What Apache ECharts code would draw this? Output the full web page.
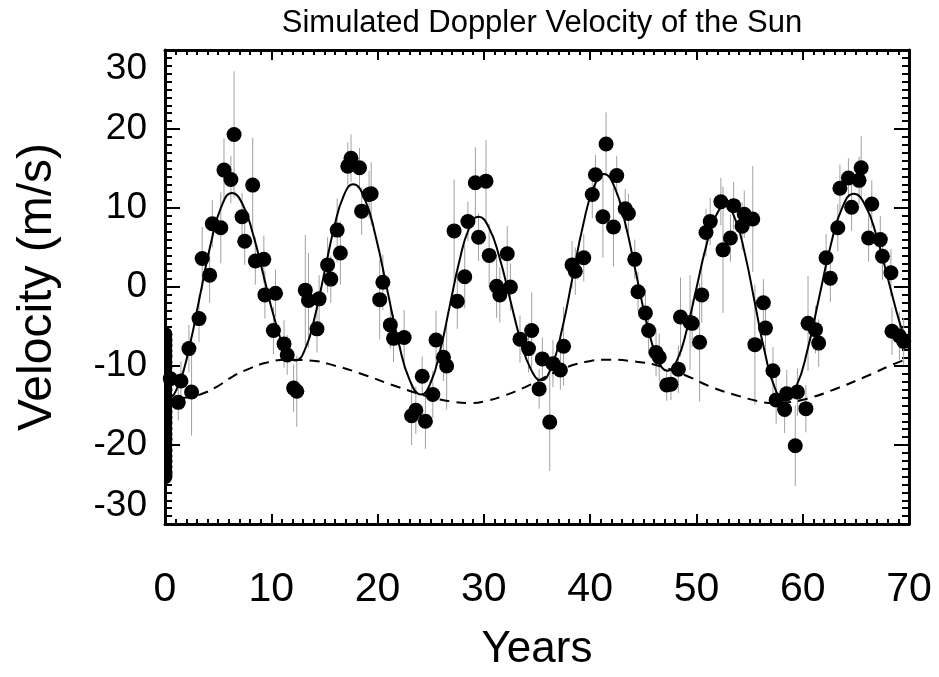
<!DOCTYPE html>
<html>
<head>
<meta charset="utf-8">
<title>Simulated Doppler Velocity of the Sun</title>
<script src="https://cdn.jsdelivr.net/npm/echarts@6/dist/echarts.min.js"></script>
<style>
  html, body { margin: 0; padding: 0; background: #fff; }
  #chart { width: 939px; height: 677px; }
</style>
</head>
<body>
<div id="chart"></div>
<script>
// observed points: year, velocity (m/s), error bar half-length
const obsYears = [0.5, 1.25, 1.5, 2.25, 2.5, 3.2, 3.5, 4.2, 4.45, 5.25, 5.55, 6.2, 6.5, 7.25, 7.5, 8.25, 8.5, 9.3, 9.4, 10.4,
  10.2, 11.2, 11.5, 12.1, 12.4, 13.2, 13.5, 14.3, 14.5, 15.3, 15.6, 16.2, 16.5, 17.2, 17.5, 18.3, 18.5, 19.2, 19.4, 20.5,
  20.2, 21.2, 21.5, 22.5, 23.2, 23.6, 24.2, 24.5, 25.2, 25.5, 26.2, 26.5, 27.2, 27.5, 28.2, 28.5, 29.2, 29.5, 30.2, 30.5,
  31.2, 31.5, 32.2, 32.5, 33.4, 34.2, 34.5, 35.2, 35.5, 36.2, 36.5, 37.2, 37.5, 38.3, 38.6, 39.4, 40.2, 40.5, 41.2, 41.5,
  42.2, 42.5, 43.3, 43.6, 44.2, 44.5, 45.2, 45.5, 46.2, 46.5, 47.2, 47.6, 48.3, 48.5, 49.4, 49.6, 50.3, 50.5, 50.9, 51.3,
  52.3, 52.5, 53.2, 53.5, 54.3, 54.5, 55.3, 55.5, 56.3, 56.5, 57.2, 57.5, 58.3, 58.5, 59.3, 59.5, 60.3, 60.5, 61.2, 61.5,
  62.2, 62.6, 63.3, 63.5, 64.3, 64.6, 65.3, 65.5, 66.2, 66.5, 67.3, 67.5, 68.3, 68.4, 69.1, 69.5];
const obsVel = [-11.6, -14.6, -11.9, -7.8, -13.3, -4.0, 3.6, 1.5, 8.0, 7.5, 14.8, 13.6, 19.3, 8.9, 5.8, 12.9, 3.3, 3.5, -1.0, -0.8,
  -5.5, -7.2, -8.6, -12.8, -13.2, -0.4, -1.7, -5.3, -1.5, 2.8, 1.0, 7.2, 4.3, 15.3, 16.3, 15.1, 9.6, 11.7, 11.8, 0.6,
  -1.6, -4.8, -6.5, -6.4, -16.3, -15.6, -11.3, -17.0, -13.6, -6.7, -8.9, -10.0, 7.1, -1.8, 1.3, 8.3, 13.2, 6.3, 13.4, 4.0,
  0.1, -1.0, 4.2, 0.0, -6.6, -7.8, -5.5, -12.9, -9.1, -17.1, -9.7, -10.5, -7.5, 2.8, 2.0, 3.7, 11.7, 14.2, 8.9, 18.1,
  7.6, 14.1, 9.9, 9.3, 3.5, -0.6, -3.3, -5.5, -8.3, -8.9, -12.4, -12.3, -10.4, -3.8, -4.5, -4.6, -7.0, -1.0, 6.9, 8.3,
  10.8, 4.7, 6.2, 10.3, 7.7, 9.2, 8.6, -7.3, -2.0, -5.2, -10.6, -14.3, -15.5, -13.5, -20.1, -13.3, -15.4, -4.6, -5.4, -7.1,
  3.7, 1.1, 7.5, 12.5, 13.8, 10.1, 13.5, 15.1, 6.2, 10.5, 6.0, 3.9, 1.8, -5.6, -6.2, -6.9];
const obsErr = [3, 2.3, 2.5, 3, 5.5, 3, 4, 3.5, 3, 4.5, 4, 3, 8, 3, 3, 6, 3, 3, 3, 3,
  3, 3, 2.5, 3, 4.5, 7, 6, 3, 3, 3.5, 3, 4, 4, 3, 3, 2.5, 3, 3, 4, 3.5,
  5, 3, 3, 3.5, 3.7, 3, 2.5, 3.5, 3, 3.7, 3, 5.5, 6.5, 3.5, 4, 2.5, 4.5, 3, 5.2, 4,
  4, 3.5, 3.5, 3, 3, 3, 4.8, 2.5, 2.7, 6.2, 3, 2.5, 5, 3, 3, 3, 3, 2.5, 5.2, 4,
  5, 2.5, 2.5, 2.5, 2.5, 2.5, 3, 3, 3, 3, 2, 2, 3, 5, 6, 3, 7.5, 3.5, 3, 3,
  3, 8, 3, 3, 3, 3, 6.7, 7.6, 3, 3, 3, 3, 3, 3, 5.1, 3, 3, 6, 3, 3,
  3, 3, 3, 3, 2.5, 3, 3, 4, 3, 3, 3, 3, 3, 3, 3, 3];

// points piled up on the left edge (year 0)
const edgeVel = [-6.0, -6.7, -7.4, -8.1, -8.8, -9.5, -10.2, -10.9, -11.6, -12.3, -13.0, -13.7, -14.4, -15.1, -15.8,
  -16.5, -17.2, -17.9, -18.6, -19.3, -20.0, -20.7, -21.4, -22.1, -22.8, -23.5, -24.0];

// fitted curve (solid)
const fitYears = [0, 0.3, 1.3, 2.3, 3.3, 4.3, 5.3, 6.3, 7.3, 8.3, 9.3, 10.3, 11.3, 12.3, 13.2, 14.1, 15.0, 15.9, 16.8, 17.7,
  18.77, 19.83, 20.9, 21.97, 23.03, 24.1, 25.0, 25.9, 26.8, 27.7, 28.6, 29.5, 30.48, 31.47, 32.45, 33.43, 34.42, 35.4,
  36.38, 37.37, 38.35, 39.33, 40.32, 41.3, 42.3, 43.3, 44.3, 45.3, 46.3, 47.3, 48.2, 49.1, 50.0, 50.9, 51.8, 52.7,
  53.63, 54.57, 55.5, 56.43, 57.37, 58.3, 59.38, 60.47, 61.55, 62.63, 63.72, 64.8, 65.88, 66.97, 68.05, 69.13, 70];
const fitVel = [-13.9, -14.0, -12.26, -7.53, -1.05, 5.43, 10.16, 11.9, 10.48, 6.6, 1.3, -4.0, -7.88, -9.3, -7.81, -3.73, 1.85, 7.43, 11.51, 13.0,
  11.22, 6.35, -0.3, -6.95, -11.82, -13.6, -12.09, -7.98, -2.35, 3.28, 7.39, 8.9, 7.51, 3.73, -1.45, -6.63, -10.41, -11.8,
  -10.05, -5.28, 1.25, 7.78, 12.55, 14.3, 12.63, 8.08, 1.85, -4.38, -8.93, -10.6, -9.2, -5.38, -0.15, 5.08, 8.9, 10.3,
  8.65, 4.13, -2.05, -8.23, -12.75, -14.4, -12.64, -7.85, -1.3, 5.25, 10.04, 11.8, 10.34, 6.35, 0.9, -4.55, -7.9];

// long-period curve (dashed)
const slowYears = [0, 1.5, 3.3, 4.9, 6.4, 8, 9.5, 11.4, 13.6, 16.1, 18.7, 21.8, 24.9, 27, 28.7, 30.3, 31.8, 34, 37.2,
  39.5, 41.6, 44, 46.5, 49, 51.3, 53.5, 56, 57.3, 58.6, 60.5, 62.9, 66, 68.5, 70];
const slowVel = [-14.3, -14.1, -13.6, -12.6, -11.3, -10.3, -9.6, -9.2, -9.3, -10, -11.1, -12.6, -13.9, -14.5, -14.7, -14.4, -13.8, -12.6, -10.5,
  -9.5, -9.2, -9.4, -10, -11.2, -12.6, -13.6, -14.5, -14.7, -14.6, -14.1, -13, -11.3, -9.8, -9.0];

const FONT = "'Liberation Sans', Arial, Helvetica, sans-serif";

const obsData = obsYears.map((x, i) => [x, obsVel[i], obsErr[i]]);
const edgeData = edgeVel.map(v => [0, v]);
const fitData = fitYears.map((x, i) => [x, fitVel[i]]);
const slowData = slowYears.map((x, i) => [x, slowVel[i]]);

const chart = echarts.init(document.getElementById('chart'));

const frameAxis = {
  type: 'value',
  axisLine: { show: true, onZero: false, lineStyle: { color: '#000', width: 3 } },
  splitLine: { show: false }
};

chart.setOption({
  backgroundColor: '#fff',
  animation: false,
  title: {
    text: 'Simulated Doppler Velocity of the Sun',
    left: 537,
    textAlign: 'center',
    top: 3,
    textStyle: { fontFamily: FONT, fontSize: 31, fontWeight: 'normal', color: '#000' }
  },
  grid: { left: 165, right: 30, top: 50, height: 475 },
  xAxis: [
    Object.assign({}, frameAxis, {
      position: 'bottom',
      min: 0, max: 70, interval: 10,
      name: 'Years',
      nameLocation: 'middle',
      nameGap: 104,
      nameTextStyle: { fontFamily: FONT, fontSize: 44, color: '#000' },
      axisTick: { inside: true, length: 10, lineStyle: { color: '#000', width: 2 } },
      minorTick: { show: true, splitNumber: 10, length: 5, lineStyle: { color: '#000', width: 2 } },
      axisLabel: { fontFamily: FONT, fontSize: 41, color: '#000', margin: 45 }
    }),
    Object.assign({}, frameAxis, {
      position: 'top',
      min: 0, max: 70, interval: 10,
      axisTick: { inside: true, length: 10, lineStyle: { color: '#000', width: 2 } },
      minorTick: { show: true, splitNumber: 10, length: 5, lineStyle: { color: '#000', width: 2 } },
      axisLabel: { show: false }
    })
  ],
  yAxis: [
    Object.assign({}, frameAxis, {
      position: 'left',
      min: -30, max: 30, interval: 10,
      name: 'Velocity (m/s)',
      nameLocation: 'middle',
      nameGap: 103,
      nameTextStyle: { fontFamily: FONT, fontSize: 48, color: '#000' },
      axisTick: { inside: true, length: 15, lineStyle: { color: '#000', width: 2 } },
      minorTick: { show: true, splitNumber: 10, length: 7, lineStyle: { color: '#000', width: 2 } },
      axisLabel: {
        fontFamily: FONT, fontSize: 37, color: '#000', margin: 18,
        verticalAlignMaxLabel: 'top', verticalAlignMinLabel: 'bottom'
      }
    }),
    Object.assign({}, frameAxis, {
      position: 'right',
      min: -30, max: 30, interval: 10,
      axisTick: { inside: true, length: 15, lineStyle: { color: '#000', width: 2 } },
      minorTick: { show: true, splitNumber: 10, length: 7, lineStyle: { color: '#000', width: 2 } },
      axisLabel: { show: false }
    })
  ],
  series: [
    {
      name: 'errors',
      type: 'custom',
      clip: true,
      encode: { x: 0, y: 1 },
      data: obsData,
      z: 1,
      renderItem: function (params, api) {
        const x = api.value(0), v = api.value(1), e = api.value(2);
        const p1 = api.coord([x, v - e]);
        const p2 = api.coord([x, v + e]);
        return {
          type: 'line',
          shape: { x1: p1[0], y1: p1[1], x2: p2[0], y2: p2[1] },
          style: { stroke: '#a0a0a0', lineWidth: 1 }
        };
      }
    },
    {
      name: 'edge',
      type: 'custom',
      encode: { x: 0, y: 1 },
      data: edgeData,
      z: 3,
      renderItem: function (params, api) {
        const p = api.coord([api.value(0), api.value(1)]);
        return {
          type: 'sector',
          shape: { cx: p[0], cy: p[1], r0: 0, r: 7.5, startAngle: -Math.PI / 2, endAngle: Math.PI / 2 },
          style: { fill: '#000', opacity: 1 }
        };
      }
    },
    {
      name: 'fit',
      type: 'line',
      data: fitData,
      smooth: true,
      showSymbol: false,
      z: 2,
      lineStyle: { color: '#000', width: 2 }
    },
    {
      name: 'slow',
      type: 'line',
      data: slowData,
      smooth: true,
      showSymbol: false,
      z: 2,
      lineStyle: { color: '#000', width: 2, type: [10, 7] }
    },
    {
      name: 'obs',
      type: 'scatter',
      data: obsData,
      symbol: 'circle',
      symbolSize: 15,
      z: 3,
      itemStyle: { color: '#000', opacity: 1 }
    }
  ]
});
</script>
</body>
</html>
